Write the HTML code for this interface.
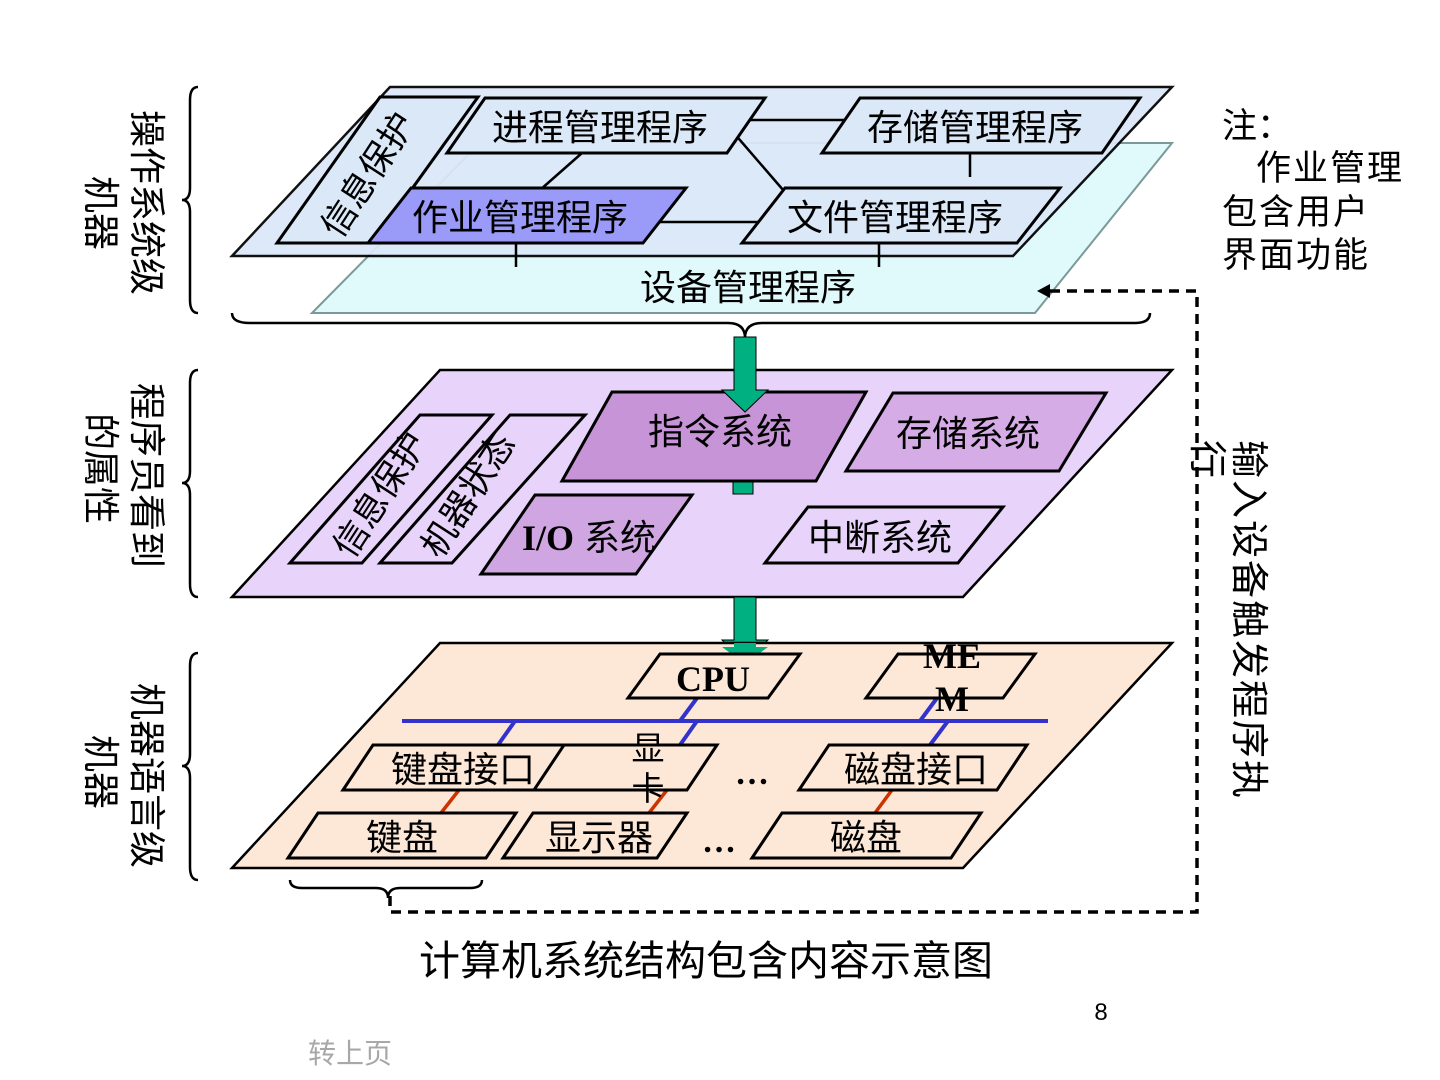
<!DOCTYPE html>
<html><head><meta charset="utf-8">
<style>
html,body{margin:0;padding:0;background:#fff;}
svg{display:block;}
text{font-family:"Liberation Sans","Noto Sans CJK SC",sans-serif;fill:#000;}
.b{font-family:"Liberation Serif","Noto Serif CJK SC",serif;font-weight:bold;}
</style></head><body>
<svg width="1440" height="1080" viewBox="0 0 1440 1080" xmlns="http://www.w3.org/2000/svg">
<polygon points="312,313 480,143 1172,143 1035,313" fill="#e0fafc" stroke="#7a9a9a" stroke-width="2"/>
<polygon points="232,256 390,87 1172,87 1013,256" fill="#dbe8f8" stroke="#000" stroke-width="2.5" opacity="0.93"/>
<g stroke="#000" stroke-width="2.5">
<line x1="727" y1="120" x2="860" y2="120"/>
<line x1="582" y1="153" x2="540" y2="190"/>
<line x1="733" y1="132" x2="790" y2="198"/>
<line x1="645" y1="222" x2="765" y2="222"/>
<line x1="970" y1="153" x2="970" y2="177"/>
<line x1="516" y1="243" x2="516" y2="267"/>
<line x1="879" y1="243" x2="879" y2="267"/>
</g>
<g stroke="#000" stroke-width="3">
<polygon points="277,243 380,97 478,97 373,243" fill="#dbe8f8"/>
<polygon points="447,153 485,98 765,98 727,153" fill="#dbe8f8"/>
<polygon points="822,153 860,98 1140,98 1102,153" fill="#dbe8f8"/>
<polygon points="368,243 411,188 686,188 643,243" fill="#9a9af8"/>
<polygon points="742,243 785,188 1060,188 1017,243" fill="#dbe8f8"/>
</g>
<g font-size="36">
<text x="600" y="140" text-anchor="middle">进程管理程序</text>
<text x="975" y="140" text-anchor="middle">存储管理程序</text>
<text x="520" y="230" text-anchor="middle">作业管理程序</text>
<text x="895" y="230" text-anchor="middle">文件管理程序</text>
<text x="748" y="300" text-anchor="middle">设备管理程序</text>
<text transform="translate(340,240) rotate(-57)" font-size="35">信息保护</text>
</g>
<path d="M232,313 Q232,323 250,323 L728,323 Q745,323 745,338 Q745,323 762,323 L1135,323 Q1150,323 1150,313" fill="none" stroke="#000" stroke-width="2.5"/>

<polygon points="232,597 440,370 1172,370 963,597" fill="#e8d4fa" stroke="#000" stroke-width="2.5"/>
<rect x="733" y="478" width="20" height="16" fill="#00b080" stroke="#000" stroke-width="1"/>
<g stroke="#000" stroke-width="3">
<polygon points="562,481 612,392 866,392 816,481" fill="#c894d8"/>
<polygon points="846,471 893,393 1106,393 1059,471" fill="#d6ace6"/>
<polygon points="290,563 420,415 492,415 362,563" fill="#e8d4fa"/>
<polygon points="380,563 510,415 585,415 452,563" fill="#e8d4fa"/>
<polygon points="481,574 535,495 692,495 636,574" fill="#d0a6e2"/>
<polygon points="765,563 808,507 1003,507 958,563" fill="#e8d4fa"/>
</g>
<polygon points="734,337 756,337 756,390 768,390 745,412 722,390 734,390" fill="#00b080" stroke="#000" stroke-width="1"/>
<g font-size="36">
<text x="720" y="444" text-anchor="middle">指令系统</text>
<text x="968" y="446" text-anchor="middle">存储系统</text>
<text x="880" y="550" text-anchor="middle">中断系统</text>
<text x="522" y="550"><tspan class="b">I/O</tspan> 系统</text>
<text transform="translate(352,560) rotate(-57)" font-size="35">信息保护</text>
<text transform="translate(440,560) rotate(-57)" font-size="35">机器状态</text>
</g>
<polygon points="734,597 756,597 756,640 768,640 745,662 722,640 734,640" fill="#00b080" stroke="#000" stroke-width="1"/>

<polygon points="232,868 440,643 1172,643 963,868" fill="#fde8d8" stroke="#000" stroke-width="2.5"/>
<polygon points="734,643 756,643 756,647 768,647 745,664 722,647 734,647" fill="#00b080"/>
<g stroke="#3333cc" stroke-width="4">
<line x1="402" y1="721" x2="1048" y2="721"/>
<line x1="697" y1="698" x2="680" y2="721"/>
<line x1="937" y1="698" x2="920" y2="721"/>
<line x1="515" y1="721" x2="498" y2="745"/>
<line x1="697" y1="721" x2="680" y2="745"/>
<line x1="948" y1="721" x2="930" y2="745"/>
</g>
<g stroke="#cc3300" stroke-width="3.5">
<line x1="459" y1="790" x2="441" y2="813"/>
<line x1="667" y1="790" x2="649" y2="813"/>
<line x1="892" y1="790" x2="875" y2="813"/>
</g>
<g stroke="#000" stroke-width="3" fill="#fde8d8">
<polygon points="628,698 660,654 800,654 768,698"/>
<polygon points="866,698 898,654 1035,654 1003,698"/>
<polygon points="343,790 373,745 573,745 543,790"/>
<polygon points="534,790 564,745 717,745 687,790"/>
<polygon points="799,790 829,745 1027,745 997,790"/>
<polygon points="288,858 318,813 516,813 486,858"/>
<polygon points="503,858 533,813 687,813 657,858"/>
<polygon points="752,858 782,813 981,813 951,858"/>
</g>
<g font-size="36">
<text x="713" y="691" text-anchor="middle" class="b">CPU</text>
<text x="952" y="668" text-anchor="middle" class="b">ME</text>
<text x="952" y="711" text-anchor="middle" class="b">M</text>
<text x="463" y="782" text-anchor="middle">键盘接口</text>
<text x="916" y="782" text-anchor="middle">磁盘接口</text>
<text x="648" y="760" text-anchor="middle" font-size="33">显</text>
<text x="648" y="800" text-anchor="middle" font-size="33">卡</text>
<text x="402" y="850" text-anchor="middle">键盘</text>
<text x="599" y="850" text-anchor="middle">显示器</text>
<text x="866" y="850" text-anchor="middle">磁盘</text>
<text x="752" y="784" text-anchor="middle" class="b" font-size="34">…</text>
<text x="719" y="852" text-anchor="middle" class="b" font-size="34">…</text>
</g>
<path d="M290,880 Q290,888 302,888 L376,888 Q388,888 388,898 Q388,888 400,888 L470,888 Q482,888 482,880" fill="none" stroke="#000" stroke-width="2.5"/>
<polyline points="390,896 390,912 1197,912 1197,291 1048,291" fill="none" stroke="#000" stroke-width="3.5" stroke-dasharray="10,7"/>
<polygon points="1037,291 1050,284 1050,298" fill="#000"/>

<g fill="none" stroke="#000" stroke-width="2.5">
<path d="M198,87 Q190,87 190,100 L190,188 Q190,200 182,200 Q190,200 190,212 L190,300 Q190,313 198,313"/>
<path d="M198,370 Q190,370 190,383 L190,471 Q190,483 182,483 Q190,483 190,495 L190,584 Q190,597 198,597"/>
<path d="M198,653 Q190,653 190,666 L190,754 Q190,766 182,766 Q190,766 190,778 L190,867 Q190,880 198,880"/>
</g>
<g font-size="37">
<text transform="translate(134,110) rotate(90)">操作系统级</text>
<text transform="translate(88,176) rotate(90)">机器</text>
<text transform="translate(134,383) rotate(90)">程序员看到</text>
<text transform="translate(88,413) rotate(90)">的属性</text>
<text transform="translate(134,683) rotate(90)">机器语言级</text>
<text transform="translate(88,735) rotate(90)">机器</text>
<text transform="translate(1236,440) rotate(90)" font-size="38" letter-spacing="2">输入设备触发程序执</text>
<text transform="translate(1194,440) rotate(90)" font-size="38">行</text>
</g>
<g font-size="35">
<text x="1222" y="138">注：</text>
<text x="1256" y="180" letter-spacing="2">作业管理</text>
<text x="1222" y="224" letter-spacing="2">包含用户</text>
<text x="1222" y="267" letter-spacing="2">界面功能</text>
</g>
<text x="706" y="975" text-anchor="middle" font-size="41">计算机系统结构包含内容示意图</text>
<text x="1101" y="1020" text-anchor="middle" font-size="24">8</text>
<text x="308" y="1063" font-size="28" style="fill:#a8a8a8">转上页</text>
</svg>
</body></html>
